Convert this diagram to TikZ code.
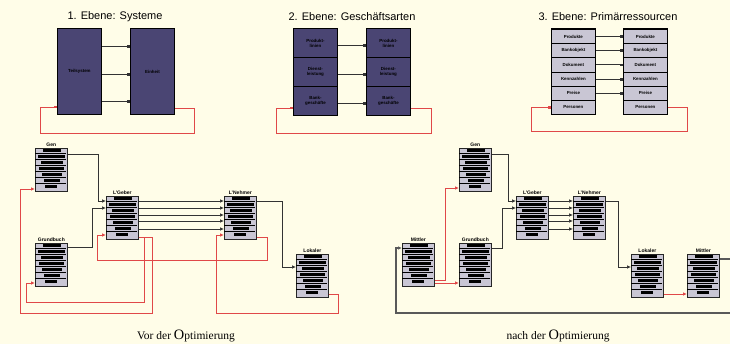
\documentclass[tikz,border=0pt]{standalone}
\usepackage{fontspec}
\setmainfont{Liberation Serif}
\setsansfont{Liberation Sans}
\usetikzlibrary{arrows.meta}
\definecolor{grund}{HTML}{FFFDE8}
\definecolor{kasten}{HTML}{4A4573}
\definecolor{zeile}{HTML}{C9C6D4}
\definecolor{rot}{HTML}{E04848}
\definecolor{linie}{HTML}{333333}
\tikzset{
  ebene/.style={font=\sffamily\fontsize{11}{12}\selectfont},
  sysbox/.style={draw=black, fill=kasten, line width=0.9pt, inner sep=0pt, anchor=north west,
    align=center, font=\sffamily\bfseries\fontsize{4.4}{5}\selectfont},
  resbox/.style={draw=black, fill=zeile, line width=0.7pt, inner sep=0pt, anchor=north west,
    minimum width=44pt, minimum height=14.2pt, font=\sffamily\bfseries\fontsize{4.4}{5}\selectfont},
  verb/.style={draw=linie, line width=0.7pt, -{Square[length=2.6pt,width=2.6pt]}},
  rueck/.style={draw=rot, line width=0.8pt, -{Square[length=2.6pt,width=2.6pt]}},
  tab/.style={draw=black!85, fill=zeile, line width=0.7pt, minimum width=32pt, minimum height=43pt,
    inner sep=0pt, anchor=north west},
  tablabel/.style={font=\sffamily\bfseries\fontsize{5}{5}\selectfont, anchor=south, inner sep=1pt},
  fluss/.style={draw=linie, line width=0.7pt, -{Latex[length=4pt,width=3.5pt]}},
  rfluss/.style={draw=rot, line width=0.8pt, -{Latex[length=4pt,width=3.5pt]}},
  unter/.style={font=\fontsize{11.5}{13}\selectfont}
}
% Tabellen-Symbol: Name, x, y, Beschriftung
\newcommand\tabelle[4]{%
  \node[tab] (#1) at (#2,#3) {};
  \foreach \k/\a/\b in {0/8/6,1/3/2,2/6/4,3/4/3,4/7/5,5/9/7,6/10/10}{
    \fill[black] (#2+\a,#3+6*\k+1.1) rectangle (#2+32-\b,#3+6*\k+4.5);
  }
  \foreach \k in {0,...,5}{
    \draw[black, line width=0.9pt] (#2,#3+6*\k+5.8) -- (#2+31,#3+6*\k+5.8);
  }
  \node[tablabel] at (#1.north) {#4};
}
\begin{document}
\begin{tikzpicture}[x=1pt,y=-1pt]
  \fill[grund] (0,0) rectangle (730,344);
  \useasboundingbox (0,0) rectangle (730,344);

  % 1. Ebene
  \node[ebene] (titel1) at (115,17) {1. Ebene: Systeme};
  \node[sysbox, minimum width=44pt, minimum height=86pt] (sys1) at (57,28) {Teilsystem};
  \node[sysbox, minimum width=44pt, minimum height=86pt] (sys2) at (130,28) {Einheit};
  \foreach \d in {18,46,73}
    \draw[verb] ([yshift=-\d pt]sys1.north east) -- ([yshift=-\d pt]sys2.north west);
  \draw[rueck] ([yshift=-80pt]sys2.north east) -- ++(19,0) |- (40,133) |- ([yshift=-79pt]sys1.north west);

  % 2. Ebene
  \node[ebene] (titel2) at (352,17) {2. Ebene: Geschäftsarten};
  \foreach \i/\y/\t in {1/28/{Produkt-\\linien},2/57/{Dienst-\\leistung},3/86/{Bank-\\geschäfte}}{
    \node[sysbox, minimum width=44pt, minimum height=29pt] (gaA\i) at (293,\y) {\t};
    \node[sysbox, minimum width=44pt, minimum height=29pt] (gaB\i) at (366,\y) {\t};
    \draw[verb] ([yshift=-2pt]gaA\i.east) -- ([yshift=-2pt]gaB\i.west);
  }
  \draw[rueck] ([yshift=-7pt]gaB3.east) -- ++(20,0) |- (276,133) |- ([yshift=-7pt]gaA3.west);

  % 3. Ebene
  \node[ebene] (titel3) at (608,17) {3. Ebene: Primärressourcen};
  \foreach \i/\t in {1/Produkte,2/Bankobjekt,3/Dokument,4/Kennzahlen,5/Preise,6/Personen}{
    \node[resbox] (prA\i) at (551,29+14.2*\i-14.2) {\t};
    \node[resbox] (prB\i) at (623,29+14.2*\i-14.2) {\t};
  }
  \foreach \i in {1,...,5}
    \draw[verb] (prA\i.east) -- (prB\i.west);
  \draw[black, line width=1pt] (prA1.north west) rectangle (prA6.south east);
  \draw[black, line width=1pt] (prB1.north west) rectangle (prB6.south east);
  \draw[rueck] (prB6.east) -- ++(20,0) |- (531,131) |- (prA6.west);

  % vor der Optimierung
  \tabelle{genA}{35}{148}{Gen}
  \tabelle{grundA}{35}{243}{Grundbuch}
  \tabelle{lgA}{106}{196}{L'Geber}
  \tabelle{lnA}{224}{196}{L'Nehmer}
  \tabelle{lokA}{296}{254}{Lokaler}
  \draw[fluss] ([yshift=-6pt]genA.north east) -- ++(31,0) |- ([yshift=-5pt]lgA.north west);
  \draw[fluss] ([yshift=-4pt]grundA.north east) -- ++(25,0) |- ([yshift=-12pt]lgA.north west);
  \foreach \d in {5,12,19,25,33}
    \draw[fluss] ([yshift=-\d pt]lgA.north east) -- ([yshift=-\d pt]lnA.north west);
  \draw[fluss] ([yshift=-5pt]lnA.north east) -- ++(26,0) |- ([yshift=-13pt]lokA.north west);
  \draw[rfluss] ([yshift=-41pt]lgA.north east) -- ++(6,0) |- (26,302) |- ([yshift=-40pt]grundA.north west);
  \draw[rfluss] ([yshift=-41pt]lgA.north east) -- ++(14,0) |- (20,313) |- ([yshift=-41pt]genA.north west);
  \draw[rfluss] ([yshift=-41pt]lnA.north east) -- ++(11,0) |- (97,260) |- ([yshift=-39pt]lgA.north west);
  \draw[rfluss] ([yshift=-40pt]lokA.north east) -- ++(10,0) |- (216,313) |- ([yshift=-39pt]lnA.north west);
  \node[unter] (vor) at (186,336) {Vor der {\Large O}ptimierung};

  % nach der Optimierung
  \tabelle{genB}{459}{148}{Gen}
  \tabelle{grundB}{459}{243}{Grundbuch}
  \tabelle{mitA}{402}{243}{Mittler}
  \tabelle{lgB}{516}{196}{L'Geber}
  \tabelle{lnB}{573}{196}{L'Nehmer}
  \tabelle{lokB}{631}{254}{Lokaler}
  \tabelle{mitB}{687}{254}{Mittler}
  \draw[fluss] ([yshift=-6pt]genB.north east) -- ++(17,0) |- ([yshift=-5pt]lgB.north west);
  \draw[fluss] ([yshift=-5pt]grundB.north east) -- ++(11,0) |- ([yshift=-12pt]lgB.north west);
  \foreach \d in {5,12,19,25,33}
    \draw[fluss] ([yshift=-\d pt]lgB.north east) -- ([yshift=-\d pt]lnB.north west);
  \draw[fluss] ([yshift=-5pt]lnB.north east) -- ++(13,0) |- ([yshift=-13pt]lokB.north west);
  \draw[fluss, draw=black!65, line width=1.1pt] ([yshift=-5pt]mitB.north east) -- ++(16,0) |- (396,313) |- ([yshift=-5pt]mitA.north west);
  \draw[rfluss] ([yshift=-37pt]mitA.north east) -- ++(11,0) |- ([yshift=-40pt]genB.north west);
  \draw[rfluss] ([yshift=-40pt]mitA.north east) -- ([yshift=-40pt]grundB.north west);
  \draw[rfluss] ([yshift=-40pt]lokB.north east) -- ([yshift=-40pt]mitB.north west);
  \node[unter] (nach) at (558,336) {nach der {\Large O}ptimierung};
\end{tikzpicture}
\end{document}
